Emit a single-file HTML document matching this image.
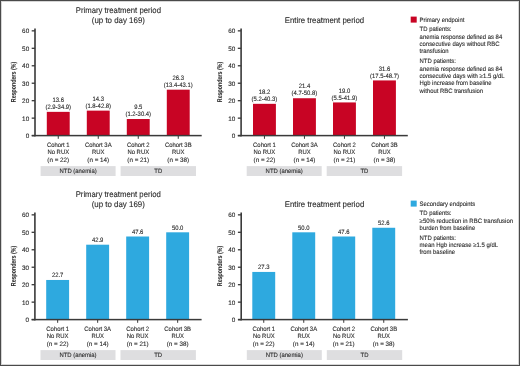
<!DOCTYPE html>
<html><head><meta charset="utf-8"><style>
html,body{margin:0;padding:0;background:#fff;}
body{width:520px;height:366px;overflow:hidden;}
svg{display:block;will-change:transform;text-rendering:geometricPrecision;font-family:"Liberation Sans",sans-serif;}
text{fill:#2a2a2a;stroke:#2a2a2a;stroke-width:0.11px;}
</style></head><body>
<svg width="520" height="366" viewBox="0 0 520 366">
<rect x="0" y="0" width="520" height="366" fill="#fff"/>
<text transform="translate(118.35,13.2) skewX(0.05)" font-size="8.3" text-anchor="middle" textLength="85.2" lengthAdjust="spacingAndGlyphs">Primary treatment period</text>
<text transform="translate(118.35,22.5) skewX(0.05)" font-size="8.3" text-anchor="middle" textLength="53.2" lengthAdjust="spacingAndGlyphs">(up to day 169)</text>
<rect x="40.6" y="166.1" width="75" height="9.9" fill="#dedee0"/>
<text transform="translate(78.1,173) skewX(0.05) scale(0.94,1)" font-size="6.3" text-anchor="middle">NTD (anemia)</text>
<rect x="120.6" y="166.1" width="75.4" height="9.9" fill="#dedee0"/>
<text transform="translate(158.3,173) skewX(0.05) scale(0.94,1)" font-size="6.3" text-anchor="middle">TD</text>
<rect x="46.8" y="111.86" width="22.9" height="23.74" fill="#c80424"/>
<rect x="57.75" y="135.6" width="1" height="3.2" fill="#3a3a3a"/>
<text transform="translate(58.25,101.96) skewX(0.05) scale(0.94,1)" font-size="6.3" text-anchor="middle">13.6</text>
<text transform="translate(58.25,109.06) skewX(0.05) scale(0.94,1)" font-size="6.3" text-anchor="middle">(2.9-34.9)</text>
<rect x="86.8" y="110.63" width="22.9" height="24.97" fill="#c80424"/>
<rect x="97.75" y="135.6" width="1" height="3.2" fill="#3a3a3a"/>
<text transform="translate(98.25,100.73) skewX(0.05) scale(0.94,1)" font-size="6.3" text-anchor="middle">14.3</text>
<text transform="translate(98.25,107.83) skewX(0.05) scale(0.94,1)" font-size="6.3" text-anchor="middle">(1.8-42.8)</text>
<rect x="126.8" y="119.01" width="22.9" height="16.59" fill="#c80424"/>
<rect x="137.75" y="135.6" width="1" height="3.2" fill="#3a3a3a"/>
<text transform="translate(138.25,109.11) skewX(0.05) scale(0.94,1)" font-size="6.3" text-anchor="middle">9.5</text>
<text transform="translate(138.25,116.21) skewX(0.05) scale(0.94,1)" font-size="6.3" text-anchor="middle">(1.2-30.4)</text>
<rect x="166.8" y="89.68" width="22.9" height="45.92" fill="#c80424"/>
<rect x="177.75" y="135.6" width="1" height="3.2" fill="#3a3a3a"/>
<text transform="translate(178.25,79.78) skewX(0.05) scale(0.94,1)" font-size="6.3" text-anchor="middle">26.3</text>
<text transform="translate(178.25,86.88) skewX(0.05) scale(0.94,1)" font-size="6.3" text-anchor="middle">(13.4-43.1)</text>
<rect x="34.2" y="28.5" width="1.6" height="107.9" fill="#3a3a3a"/>
<rect x="31.8" y="134.85" width="169.9" height="1.5" fill="#3a3a3a"/>
<rect x="31.7" y="134.95" width="3.3" height="1.3" fill="#3a3a3a"/>
<text transform="translate(29.2,138.05) skewX(0.05) scale(1.0,1)" font-size="6.4" text-anchor="end">0</text>
<rect x="31.7" y="117.49" width="3.3" height="1.3" fill="#3a3a3a"/>
<text transform="translate(29.2,120.59) skewX(0.05) scale(1.0,1)" font-size="6.4" text-anchor="end">10</text>
<rect x="31.7" y="100.03" width="3.3" height="1.3" fill="#3a3a3a"/>
<text transform="translate(29.2,103.13) skewX(0.05) scale(1.0,1)" font-size="6.4" text-anchor="end">20</text>
<rect x="31.7" y="82.57" width="3.3" height="1.3" fill="#3a3a3a"/>
<text transform="translate(29.2,85.67) skewX(0.05) scale(1.0,1)" font-size="6.4" text-anchor="end">30</text>
<rect x="31.7" y="65.12" width="3.3" height="1.3" fill="#3a3a3a"/>
<text transform="translate(29.2,68.22) skewX(0.05) scale(1.0,1)" font-size="6.4" text-anchor="end">40</text>
<rect x="31.7" y="47.66" width="3.3" height="1.3" fill="#3a3a3a"/>
<text transform="translate(29.2,50.76) skewX(0.05) scale(1.0,1)" font-size="6.4" text-anchor="end">50</text>
<rect x="31.7" y="30.2" width="3.3" height="1.3" fill="#3a3a3a"/>
<text transform="translate(29.2,33.3) skewX(0.05) scale(1.0,1)" font-size="6.4" text-anchor="end">60</text>
<text transform="translate(15.8,82) rotate(-90.05)" font-size="6.9" font-weight="bold" style="stroke-width:0.05px" text-anchor="middle" textLength="40.3" lengthAdjust="spacingAndGlyphs">Responders (%)</text>
<text transform="translate(58.25,147.1) skewX(0.05) scale(0.94,1)" font-size="6.3" text-anchor="middle">Cohort 1</text>
<text transform="translate(58.25,154.4) skewX(0.05) scale(0.94,1)" font-size="6.3" text-anchor="middle">No RUX</text>
<text transform="translate(58.25,161.6) skewX(0.05)" font-size="6.3" text-anchor="middle" textLength="21.8" lengthAdjust="spacingAndGlyphs">(n = 22)</text>
<text transform="translate(98.25,147.1) skewX(0.05) scale(0.94,1)" font-size="6.3" text-anchor="middle">Cohort 3A</text>
<text transform="translate(98.25,154.4) skewX(0.05) scale(0.94,1)" font-size="6.3" text-anchor="middle">RUX</text>
<text transform="translate(98.25,161.6) skewX(0.05)" font-size="6.3" text-anchor="middle" textLength="21.8" lengthAdjust="spacingAndGlyphs">(n = 14)</text>
<text transform="translate(138.25,147.1) skewX(0.05) scale(0.94,1)" font-size="6.3" text-anchor="middle">Cohort 2</text>
<text transform="translate(138.25,154.4) skewX(0.05) scale(0.94,1)" font-size="6.3" text-anchor="middle">No RUX</text>
<text transform="translate(138.25,161.6) skewX(0.05)" font-size="6.3" text-anchor="middle" textLength="21.8" lengthAdjust="spacingAndGlyphs">(n = 21)</text>
<text transform="translate(178.25,147.1) skewX(0.05) scale(0.94,1)" font-size="6.3" text-anchor="middle">Cohort 3B</text>
<text transform="translate(178.25,154.4) skewX(0.05) scale(0.94,1)" font-size="6.3" text-anchor="middle">RUX</text>
<text transform="translate(178.25,161.6) skewX(0.05)" font-size="6.3" text-anchor="middle" textLength="21.8" lengthAdjust="spacingAndGlyphs">(n = 38)</text>
<text transform="translate(324.45,22.9) skewX(0.05)" font-size="8.3" text-anchor="middle" textLength="79.5" lengthAdjust="spacingAndGlyphs">Entire treatment period</text>
<rect x="246.7" y="166.1" width="75" height="9.9" fill="#dedee0"/>
<text transform="translate(284.2,173) skewX(0.05) scale(0.94,1)" font-size="6.3" text-anchor="middle">NTD (anemia)</text>
<rect x="326.7" y="166.1" width="75.4" height="9.9" fill="#dedee0"/>
<text transform="translate(364.4,173) skewX(0.05) scale(0.94,1)" font-size="6.3" text-anchor="middle">TD</text>
<rect x="253" y="103.83" width="22.9" height="31.77" fill="#c80424"/>
<rect x="263.95" y="135.6" width="1" height="3.2" fill="#3a3a3a"/>
<text transform="translate(264.45,93.93) skewX(0.05) scale(0.94,1)" font-size="6.3" text-anchor="middle">18.2</text>
<text transform="translate(264.45,101.03) skewX(0.05) scale(0.94,1)" font-size="6.3" text-anchor="middle">(5.2-40.3)</text>
<rect x="293" y="98.24" width="22.9" height="37.36" fill="#c80424"/>
<rect x="303.95" y="135.6" width="1" height="3.2" fill="#3a3a3a"/>
<text transform="translate(304.45,88.34) skewX(0.05) scale(0.94,1)" font-size="6.3" text-anchor="middle">21.4</text>
<text transform="translate(304.45,95.44) skewX(0.05) scale(0.94,1)" font-size="6.3" text-anchor="middle">(4.7-50.8)</text>
<rect x="333" y="102.43" width="22.9" height="33.17" fill="#c80424"/>
<rect x="343.95" y="135.6" width="1" height="3.2" fill="#3a3a3a"/>
<text transform="translate(344.45,92.53) skewX(0.05) scale(0.94,1)" font-size="6.3" text-anchor="middle">19.0</text>
<text transform="translate(344.45,99.63) skewX(0.05) scale(0.94,1)" font-size="6.3" text-anchor="middle">(5.5-41.9)</text>
<rect x="373" y="80.43" width="22.9" height="55.17" fill="#c80424"/>
<rect x="383.95" y="135.6" width="1" height="3.2" fill="#3a3a3a"/>
<text transform="translate(384.45,70.53) skewX(0.05) scale(0.94,1)" font-size="6.3" text-anchor="middle">31.6</text>
<text transform="translate(384.45,77.63) skewX(0.05) scale(0.94,1)" font-size="6.3" text-anchor="middle">(17.5-48.7)</text>
<rect x="240.3" y="28.5" width="1.6" height="107.9" fill="#3a3a3a"/>
<rect x="237.9" y="134.85" width="169.9" height="1.5" fill="#3a3a3a"/>
<rect x="237.8" y="134.95" width="3.3" height="1.3" fill="#3a3a3a"/>
<text transform="translate(235.3,138.05) skewX(0.05) scale(1.0,1)" font-size="6.4" text-anchor="end">0</text>
<rect x="237.8" y="117.49" width="3.3" height="1.3" fill="#3a3a3a"/>
<text transform="translate(235.3,120.59) skewX(0.05) scale(1.0,1)" font-size="6.4" text-anchor="end">10</text>
<rect x="237.8" y="100.03" width="3.3" height="1.3" fill="#3a3a3a"/>
<text transform="translate(235.3,103.13) skewX(0.05) scale(1.0,1)" font-size="6.4" text-anchor="end">20</text>
<rect x="237.8" y="82.57" width="3.3" height="1.3" fill="#3a3a3a"/>
<text transform="translate(235.3,85.67) skewX(0.05) scale(1.0,1)" font-size="6.4" text-anchor="end">30</text>
<rect x="237.8" y="65.12" width="3.3" height="1.3" fill="#3a3a3a"/>
<text transform="translate(235.3,68.22) skewX(0.05) scale(1.0,1)" font-size="6.4" text-anchor="end">40</text>
<rect x="237.8" y="47.66" width="3.3" height="1.3" fill="#3a3a3a"/>
<text transform="translate(235.3,50.76) skewX(0.05) scale(1.0,1)" font-size="6.4" text-anchor="end">50</text>
<rect x="237.8" y="30.2" width="3.3" height="1.3" fill="#3a3a3a"/>
<text transform="translate(235.3,33.3) skewX(0.05) scale(1.0,1)" font-size="6.4" text-anchor="end">60</text>
<text transform="translate(221.9,82) rotate(-90.05)" font-size="6.9" font-weight="bold" style="stroke-width:0.05px" text-anchor="middle" textLength="40.3" lengthAdjust="spacingAndGlyphs">Responders (%)</text>
<text transform="translate(264.45,147.1) skewX(0.05) scale(0.94,1)" font-size="6.3" text-anchor="middle">Cohort 1</text>
<text transform="translate(264.45,154.4) skewX(0.05) scale(0.94,1)" font-size="6.3" text-anchor="middle">No RUX</text>
<text transform="translate(264.45,161.6) skewX(0.05)" font-size="6.3" text-anchor="middle" textLength="21.8" lengthAdjust="spacingAndGlyphs">(n = 22)</text>
<text transform="translate(304.45,147.1) skewX(0.05) scale(0.94,1)" font-size="6.3" text-anchor="middle">Cohort 3A</text>
<text transform="translate(304.45,154.4) skewX(0.05) scale(0.94,1)" font-size="6.3" text-anchor="middle">RUX</text>
<text transform="translate(304.45,161.6) skewX(0.05)" font-size="6.3" text-anchor="middle" textLength="21.8" lengthAdjust="spacingAndGlyphs">(n = 14)</text>
<text transform="translate(344.45,147.1) skewX(0.05) scale(0.94,1)" font-size="6.3" text-anchor="middle">Cohort 2</text>
<text transform="translate(344.45,154.4) skewX(0.05) scale(0.94,1)" font-size="6.3" text-anchor="middle">No RUX</text>
<text transform="translate(344.45,161.6) skewX(0.05)" font-size="6.3" text-anchor="middle" textLength="21.8" lengthAdjust="spacingAndGlyphs">(n = 21)</text>
<text transform="translate(384.45,147.1) skewX(0.05) scale(0.94,1)" font-size="6.3" text-anchor="middle">Cohort 3B</text>
<text transform="translate(384.45,154.4) skewX(0.05) scale(0.94,1)" font-size="6.3" text-anchor="middle">RUX</text>
<text transform="translate(384.45,161.6) skewX(0.05)" font-size="6.3" text-anchor="middle" textLength="21.8" lengthAdjust="spacingAndGlyphs">(n = 38)</text>
<text transform="translate(118.25,197.2) skewX(0.05)" font-size="8.3" text-anchor="middle" textLength="85.2" lengthAdjust="spacingAndGlyphs">Primary treatment period</text>
<text transform="translate(118.25,206.5) skewX(0.05)" font-size="8.3" text-anchor="middle" textLength="53.2" lengthAdjust="spacingAndGlyphs">(up to day 169)</text>
<rect x="40.5" y="350.1" width="75" height="9.9" fill="#dedee0"/>
<text transform="translate(78,357) skewX(0.05) scale(0.94,1)" font-size="6.3" text-anchor="middle">NTD (anemia)</text>
<rect x="120.5" y="350.1" width="75.4" height="9.9" fill="#dedee0"/>
<text transform="translate(158.2,357) skewX(0.05) scale(0.94,1)" font-size="6.3" text-anchor="middle">TD</text>
<rect x="46.2" y="279.97" width="22.9" height="39.63" fill="#2ea9df"/>
<rect x="57.15" y="319.6" width="1" height="3.2" fill="#3a3a3a"/>
<text transform="translate(57.65,277.37) skewX(0.05) scale(0.94,1)" font-size="6.3" text-anchor="middle">22.7</text>
<rect x="86.2" y="244.7" width="22.9" height="74.9" fill="#2ea9df"/>
<rect x="97.15" y="319.6" width="1" height="3.2" fill="#3a3a3a"/>
<text transform="translate(97.65,242.1) skewX(0.05) scale(0.94,1)" font-size="6.3" text-anchor="middle">42.9</text>
<rect x="126.2" y="236.5" width="22.9" height="83.1" fill="#2ea9df"/>
<rect x="137.15" y="319.6" width="1" height="3.2" fill="#3a3a3a"/>
<text transform="translate(137.65,233.9) skewX(0.05) scale(0.94,1)" font-size="6.3" text-anchor="middle">47.6</text>
<rect x="166.2" y="232.31" width="22.9" height="87.29" fill="#2ea9df"/>
<rect x="177.15" y="319.6" width="1" height="3.2" fill="#3a3a3a"/>
<text transform="translate(177.65,229.71) skewX(0.05) scale(0.94,1)" font-size="6.3" text-anchor="middle">50.0</text>
<rect x="34.1" y="212.5" width="1.6" height="107.9" fill="#3a3a3a"/>
<rect x="31.7" y="318.85" width="169.9" height="1.5" fill="#3a3a3a"/>
<rect x="31.6" y="318.95" width="3.3" height="1.3" fill="#3a3a3a"/>
<text transform="translate(29.1,322.05) skewX(0.05) scale(1.0,1)" font-size="6.4" text-anchor="end">0</text>
<rect x="31.6" y="301.49" width="3.3" height="1.3" fill="#3a3a3a"/>
<text transform="translate(29.1,304.59) skewX(0.05) scale(1.0,1)" font-size="6.4" text-anchor="end">10</text>
<rect x="31.6" y="284.03" width="3.3" height="1.3" fill="#3a3a3a"/>
<text transform="translate(29.1,287.13) skewX(0.05) scale(1.0,1)" font-size="6.4" text-anchor="end">20</text>
<rect x="31.6" y="266.58" width="3.3" height="1.3" fill="#3a3a3a"/>
<text transform="translate(29.1,269.68) skewX(0.05) scale(1.0,1)" font-size="6.4" text-anchor="end">30</text>
<rect x="31.6" y="249.12" width="3.3" height="1.3" fill="#3a3a3a"/>
<text transform="translate(29.1,252.22) skewX(0.05) scale(1.0,1)" font-size="6.4" text-anchor="end">40</text>
<rect x="31.6" y="231.66" width="3.3" height="1.3" fill="#3a3a3a"/>
<text transform="translate(29.1,234.76) skewX(0.05) scale(1.0,1)" font-size="6.4" text-anchor="end">50</text>
<rect x="31.6" y="214.2" width="3.3" height="1.3" fill="#3a3a3a"/>
<text transform="translate(29.1,217.3) skewX(0.05) scale(1.0,1)" font-size="6.4" text-anchor="end">60</text>
<text transform="translate(15.7,266) rotate(-90.05)" font-size="6.9" font-weight="bold" style="stroke-width:0.05px" text-anchor="middle" textLength="40.3" lengthAdjust="spacingAndGlyphs">Responders (%)</text>
<text transform="translate(57.65,331.1) skewX(0.05) scale(0.94,1)" font-size="6.3" text-anchor="middle">Cohort 1</text>
<text transform="translate(57.65,338.4) skewX(0.05) scale(0.94,1)" font-size="6.3" text-anchor="middle">No RUX</text>
<text transform="translate(57.65,345.6) skewX(0.05)" font-size="6.3" text-anchor="middle" textLength="21.8" lengthAdjust="spacingAndGlyphs">(n = 22)</text>
<text transform="translate(97.65,331.1) skewX(0.05) scale(0.94,1)" font-size="6.3" text-anchor="middle">Cohort 3A</text>
<text transform="translate(97.65,338.4) skewX(0.05) scale(0.94,1)" font-size="6.3" text-anchor="middle">RUX</text>
<text transform="translate(97.65,345.6) skewX(0.05)" font-size="6.3" text-anchor="middle" textLength="21.8" lengthAdjust="spacingAndGlyphs">(n = 14)</text>
<text transform="translate(137.65,331.1) skewX(0.05) scale(0.94,1)" font-size="6.3" text-anchor="middle">Cohort 2</text>
<text transform="translate(137.65,338.4) skewX(0.05) scale(0.94,1)" font-size="6.3" text-anchor="middle">No RUX</text>
<text transform="translate(137.65,345.6) skewX(0.05)" font-size="6.3" text-anchor="middle" textLength="21.8" lengthAdjust="spacingAndGlyphs">(n = 21)</text>
<text transform="translate(177.65,331.1) skewX(0.05) scale(0.94,1)" font-size="6.3" text-anchor="middle">Cohort 3B</text>
<text transform="translate(177.65,338.4) skewX(0.05) scale(0.94,1)" font-size="6.3" text-anchor="middle">RUX</text>
<text transform="translate(177.65,345.6) skewX(0.05)" font-size="6.3" text-anchor="middle" textLength="21.8" lengthAdjust="spacingAndGlyphs">(n = 38)</text>
<text transform="translate(324.55,206.9) skewX(0.05)" font-size="8.3" text-anchor="middle" textLength="79.5" lengthAdjust="spacingAndGlyphs">Entire treatment period</text>
<rect x="246.8" y="350.1" width="75" height="9.9" fill="#dedee0"/>
<text transform="translate(284.3,357) skewX(0.05) scale(0.94,1)" font-size="6.3" text-anchor="middle">NTD (anemia)</text>
<rect x="326.8" y="350.1" width="75.4" height="9.9" fill="#dedee0"/>
<text transform="translate(364.5,357) skewX(0.05) scale(0.94,1)" font-size="6.3" text-anchor="middle">TD</text>
<rect x="252.3" y="271.94" width="22.9" height="47.66" fill="#2ea9df"/>
<rect x="263.25" y="319.6" width="1" height="3.2" fill="#3a3a3a"/>
<text transform="translate(263.75,269.34) skewX(0.05) scale(0.94,1)" font-size="6.3" text-anchor="middle">27.3</text>
<rect x="292.3" y="232.31" width="22.9" height="87.29" fill="#2ea9df"/>
<rect x="303.25" y="319.6" width="1" height="3.2" fill="#3a3a3a"/>
<text transform="translate(303.75,229.71) skewX(0.05) scale(0.94,1)" font-size="6.3" text-anchor="middle">50.0</text>
<rect x="332.3" y="236.5" width="22.9" height="83.1" fill="#2ea9df"/>
<rect x="343.25" y="319.6" width="1" height="3.2" fill="#3a3a3a"/>
<text transform="translate(343.75,233.9) skewX(0.05) scale(0.94,1)" font-size="6.3" text-anchor="middle">47.6</text>
<rect x="372.3" y="227.77" width="22.9" height="91.83" fill="#2ea9df"/>
<rect x="383.25" y="319.6" width="1" height="3.2" fill="#3a3a3a"/>
<text transform="translate(383.75,225.17) skewX(0.05) scale(0.94,1)" font-size="6.3" text-anchor="middle">52.6</text>
<rect x="240.4" y="212.5" width="1.6" height="107.9" fill="#3a3a3a"/>
<rect x="238" y="318.85" width="169.9" height="1.5" fill="#3a3a3a"/>
<rect x="237.9" y="318.95" width="3.3" height="1.3" fill="#3a3a3a"/>
<text transform="translate(235.4,322.05) skewX(0.05) scale(1.0,1)" font-size="6.4" text-anchor="end">0</text>
<rect x="237.9" y="301.49" width="3.3" height="1.3" fill="#3a3a3a"/>
<text transform="translate(235.4,304.59) skewX(0.05) scale(1.0,1)" font-size="6.4" text-anchor="end">10</text>
<rect x="237.9" y="284.03" width="3.3" height="1.3" fill="#3a3a3a"/>
<text transform="translate(235.4,287.13) skewX(0.05) scale(1.0,1)" font-size="6.4" text-anchor="end">20</text>
<rect x="237.9" y="266.58" width="3.3" height="1.3" fill="#3a3a3a"/>
<text transform="translate(235.4,269.68) skewX(0.05) scale(1.0,1)" font-size="6.4" text-anchor="end">30</text>
<rect x="237.9" y="249.12" width="3.3" height="1.3" fill="#3a3a3a"/>
<text transform="translate(235.4,252.22) skewX(0.05) scale(1.0,1)" font-size="6.4" text-anchor="end">40</text>
<rect x="237.9" y="231.66" width="3.3" height="1.3" fill="#3a3a3a"/>
<text transform="translate(235.4,234.76) skewX(0.05) scale(1.0,1)" font-size="6.4" text-anchor="end">50</text>
<rect x="237.9" y="214.2" width="3.3" height="1.3" fill="#3a3a3a"/>
<text transform="translate(235.4,217.3) skewX(0.05) scale(1.0,1)" font-size="6.4" text-anchor="end">60</text>
<text transform="translate(222,266) rotate(-90.05)" font-size="6.9" font-weight="bold" style="stroke-width:0.05px" text-anchor="middle" textLength="40.3" lengthAdjust="spacingAndGlyphs">Responders (%)</text>
<text transform="translate(263.75,331.1) skewX(0.05) scale(0.94,1)" font-size="6.3" text-anchor="middle">Cohort 1</text>
<text transform="translate(263.75,338.4) skewX(0.05) scale(0.94,1)" font-size="6.3" text-anchor="middle">No RUX</text>
<text transform="translate(263.75,345.6) skewX(0.05)" font-size="6.3" text-anchor="middle" textLength="21.8" lengthAdjust="spacingAndGlyphs">(n = 22)</text>
<text transform="translate(303.75,331.1) skewX(0.05) scale(0.94,1)" font-size="6.3" text-anchor="middle">Cohort 3A</text>
<text transform="translate(303.75,338.4) skewX(0.05) scale(0.94,1)" font-size="6.3" text-anchor="middle">RUX</text>
<text transform="translate(303.75,345.6) skewX(0.05)" font-size="6.3" text-anchor="middle" textLength="21.8" lengthAdjust="spacingAndGlyphs">(n = 14)</text>
<text transform="translate(343.75,331.1) skewX(0.05) scale(0.94,1)" font-size="6.3" text-anchor="middle">Cohort 2</text>
<text transform="translate(343.75,338.4) skewX(0.05) scale(0.94,1)" font-size="6.3" text-anchor="middle">No RUX</text>
<text transform="translate(343.75,345.6) skewX(0.05)" font-size="6.3" text-anchor="middle" textLength="21.8" lengthAdjust="spacingAndGlyphs">(n = 21)</text>
<text transform="translate(383.75,331.1) skewX(0.05) scale(0.94,1)" font-size="6.3" text-anchor="middle">Cohort 3B</text>
<text transform="translate(383.75,338.4) skewX(0.05) scale(0.94,1)" font-size="6.3" text-anchor="middle">RUX</text>
<text transform="translate(383.75,345.6) skewX(0.05)" font-size="6.3" text-anchor="middle" textLength="21.8" lengthAdjust="spacingAndGlyphs">(n = 38)</text>
<rect x="410.7" y="16.6" width="6" height="6" fill="#c80424"/>
<text transform="translate(419.6,22) skewX(0.05) scale(0.94,1)" font-size="6.3" text-anchor="start">Primary endpoint</text>
<text transform="translate(419.6,31.3) skewX(0.05) scale(0.94,1)" font-size="6.3" text-anchor="start">TD patients:</text>
<text transform="translate(419.6,38.6) skewX(0.05) scale(0.94,1)" font-size="6.3" text-anchor="start">anemia response defined as 84</text>
<text transform="translate(419.6,45.8) skewX(0.05) scale(0.94,1)" font-size="6.3" text-anchor="start">consecutive days without RBC</text>
<text transform="translate(419.6,52.9) skewX(0.05) scale(0.94,1)" font-size="6.3" text-anchor="start">transfusion</text>
<text transform="translate(419.6,63.3) skewX(0.05) scale(0.94,1)" font-size="6.3" text-anchor="start">NTD patients:</text>
<text transform="translate(419.6,70.6) skewX(0.05) scale(0.94,1)" font-size="6.3" text-anchor="start">anemia response defined as 84</text>
<text transform="translate(419.6,77.9) skewX(0.05)" font-size="6.3" text-anchor="start" textLength="85" lengthAdjust="spacingAndGlyphs">consecutive days with ≥1.5 g/dL</text>
<text transform="translate(419.6,85.2) skewX(0.05) scale(0.94,1)" font-size="6.3" text-anchor="start">Hgb increase from baseline</text>
<text transform="translate(419.6,92.5) skewX(0.05) scale(0.94,1)" font-size="6.3" text-anchor="start">without RBC transfusion</text>
<rect x="410.7" y="200.6" width="6" height="6" fill="#2ea9df"/>
<text transform="translate(419.6,206) skewX(0.05) scale(0.94,1)" font-size="6.3" text-anchor="start">Secondary endpoints</text>
<text transform="translate(419.6,215.3) skewX(0.05) scale(0.94,1)" font-size="6.3" text-anchor="start">TD patients:</text>
<text transform="translate(419.6,222.6) skewX(0.05)" font-size="6.3" text-anchor="start" textLength="93.5" lengthAdjust="spacingAndGlyphs">≥50% reduction in RBC transfusion</text>
<text transform="translate(419.6,229.8) skewX(0.05) scale(0.94,1)" font-size="6.3" text-anchor="start">burden from baseline</text>
<text transform="translate(419.6,239.6) skewX(0.05) scale(0.94,1)" font-size="6.3" text-anchor="start">NTD patients:</text>
<text transform="translate(419.6,246.7) skewX(0.05)" font-size="6.3" text-anchor="start" textLength="78.5" lengthAdjust="spacingAndGlyphs">mean Hgb increase ≥1.5 g/dL</text>
<text transform="translate(419.6,254.3) skewX(0.05) scale(0.94,1)" font-size="6.3" text-anchor="start">from baseline</text>
<rect x="1.5" y="1.5" width="517" height="363" fill="none" stroke="#d6d6d6" stroke-width="1"/>
<rect x="0.5" y="0.5" width="519" height="365" fill="none" stroke="#4a4a4a" stroke-width="1"/>
</svg>
</body></html>
